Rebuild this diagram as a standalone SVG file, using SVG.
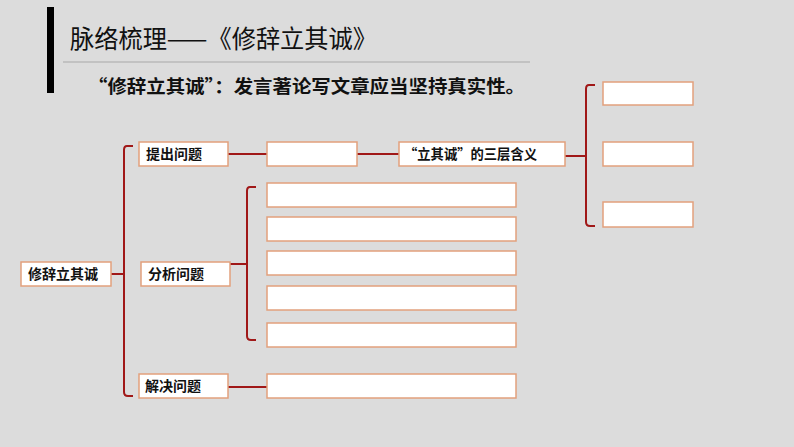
<svg xmlns="http://www.w3.org/2000/svg" width="794" height="447" viewBox="0 0 794 447">
<style>
.box{fill:#ffffff;stroke:#e2a07c;stroke-width:1.5}
.lbl{font-family:"Noto Sans CJK SC","Noto Sans",sans-serif;font-size:14px;font-weight:bold;fill:#111}
.con{fill:none;stroke:#a01818;stroke-width:2;stroke-linejoin:round;stroke-linecap:butt}
</style>
<rect x="0" y="0" width="794" height="447" fill="#dcdcdc"/>
<g id="header">
<rect x="47" y="7" width="7" height="86" fill="#000"/>
<text x="70" y="48" font-family="'Noto Sans CJK SC',sans-serif" font-size="25" fill="#111" textLength="307" lengthAdjust="spacingAndGlyphs">脉络梳理——《修辞立其诚》</text>
<line x1="63" y1="62" x2="530" y2="62" stroke="#a8a8a8" stroke-width="1"/>
<text x="88" y="93" font-family="'Noto Sans CJK SC',sans-serif" font-size="18" font-weight="bold" fill="#111" textLength="437" lengthAdjust="spacingAndGlyphs">“修辞立其诚”：发言著论写文章应当坚持真实性。</text>
</g>
<g id="connectors">
<path class="con" d="M111,274 L124,274"/>
<path class="con" d="M133,146 L127,146 Q124,146 124,150 L124,392 Q124,396 128,396 L133,396"/>
<path class="con" d="M228,154 L267,154"/>
<path class="con" d="M357,154 L399,154"/>
<path class="con" d="M230,264 L247,264"/>
<path class="con" d="M256,187 L250,187 Q247,187 247,191 L247,336 Q247,340 251,340 L256,340"/>
<path class="con" d="M228,387 L267,387"/>
<path class="con" d="M565,156 L586,156"/>
<path class="con" d="M595,85 L589,85 Q586,85 586,89 L586,222 Q586,226 590,226 L595,226"/>
</g>
<g id="n-root"><rect class="box" x="21" y="262" width="90" height="24"/><text class="lbl" x="28" y="279">修辞立其诚</text></g>
<g id="n-tichu"><rect class="box" x="139" y="142" width="89" height="24"/><text class="lbl" x="146" y="159">提出问题</text></g>
<g id="n-blank1"><rect class="box" x="267" y="142" width="90" height="24"/></g>
<g id="n-sanceng"><rect class="box" x="399" y="142" width="166" height="24"/><text class="lbl" x="404" y="159" textLength="133" lengthAdjust="spacingAndGlyphs">“立其诚”的三层含义</text></g>
<g id="n-r1"><rect class="box" x="603" y="82" width="90" height="23"/></g>
<g id="n-r2"><rect class="box" x="603" y="142" width="90" height="24"/></g>
<g id="n-r3"><rect class="box" x="603" y="202" width="90" height="25"/></g>
<g id="n-fenxi"><rect class="box" x="141" y="262" width="89" height="24"/><text class="lbl" x="148" y="279">分析问题</text></g>
<g id="n-a1"><rect class="box" x="267" y="183" width="249" height="24"/></g>
<g id="n-a2"><rect class="box" x="267" y="217" width="249" height="24"/></g>
<g id="n-a3"><rect class="box" x="267" y="251" width="249" height="24"/></g>
<g id="n-a4"><rect class="box" x="267" y="286" width="249" height="24"/></g>
<g id="n-a5"><rect class="box" x="267" y="323" width="249" height="24"/></g>
<g id="n-jiejue"><rect class="box" x="139" y="374" width="89" height="24"/><text class="lbl" x="145" y="391">解决问题</text></g>
<g id="n-blank2"><rect class="box" x="267" y="374" width="249" height="24"/></g>
</svg>
